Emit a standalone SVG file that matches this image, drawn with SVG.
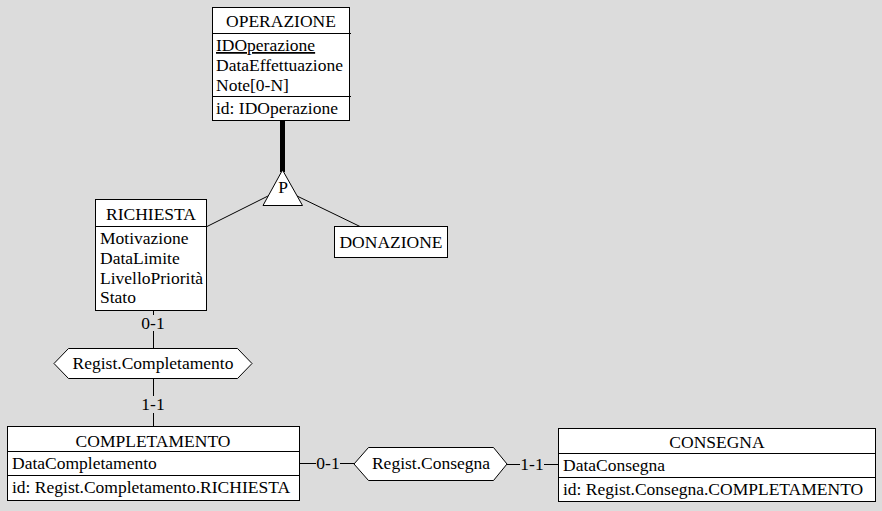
<svg xmlns="http://www.w3.org/2000/svg" width="882" height="511" viewBox="0 0 882 511">
<style>
.box{fill:#ffffff;stroke:#000000;stroke-width:1}
.sep{stroke:#000000;stroke-width:1}
.t{font-family:"Liberation Serif","Times New Roman",serif;font-size:17.5px;fill:#000000}
.c{text-anchor:middle}
.ln{stroke:#000000;stroke-width:1;fill:none}
.bg{fill:#dcdcdc}
</style>
<rect width="882" height="511" fill="#dcdcdc"/>
<g id="connectors">
<line class="ln" x1="282.5" y1="121" x2="282.5" y2="172" style="stroke-width:5"/>
<line class="ln" x1="207" y1="226.5" x2="268" y2="196"/>
<line class="ln" x1="297" y1="196" x2="360" y2="226.5"/>
<line class="ln" x1="153.5" y1="310" x2="153.5" y2="348"/>
<rect class="bg" x="140" y="315" width="27" height="16"/>
<text class="t c" x="153" y="329">0-1</text>
<line class="ln" x1="153.5" y1="378" x2="153.5" y2="426"/>
<rect class="bg" x="140" y="396" width="27" height="17"/>
<text class="t c" x="153" y="410">1-1</text>
<line class="ln" x1="300" y1="463.5" x2="354" y2="463.5"/>
<rect class="bg" x="316" y="455" width="24" height="16"/>
<text class="t c" x="328" y="469">0-1</text>
<line class="ln" x1="507" y1="464.5" x2="558" y2="464.5"/>
<rect class="bg" x="520" y="456" width="24" height="16"/>
<text class="t c" x="532" y="470">1-1</text>
</g>
<g id="OPERAZIONE">
<rect class="box" x="212.5" y="7.5" width="137" height="113"/>
<line class="sep" x1="212.5" y1="33.5" x2="351" y2="33.5"/>
<line class="sep" x1="212.5" y1="96.5" x2="351" y2="96.5"/>
<text class="t c" x="281" y="27">OPERAZIONE</text>
<text class="t" x="216" y="51" text-decoration="underline">IDOperazione</text>
<text class="t" x="216" y="71">DataEffettuazione</text>
<text class="t" x="216" y="91">Note[0-N]</text>
<text class="t" x="216" y="114">id: IDOperazione</text>
</g>
<g id="P">
<polygon class="box" points="282.5,170 263,205.5 302.5,205.5"/>
<text class="t c" x="283" y="193">P</text>
</g>
<g id="RICHIESTA">
<rect class="box" x="95.5" y="199.5" width="111" height="111"/>
<line class="sep" x1="95.5" y1="226.5" x2="207" y2="226.5"/>
<text class="t c" x="151" y="220">RICHIESTA</text>
<text class="t" x="100" y="244">Motivazione</text>
<text class="t" x="100" y="264">DataLimite</text>
<text class="t" x="100" y="284">LivelloPriorità</text>
<text class="t" x="100" y="303">Stato</text>
</g>
<g id="DONAZIONE">
<rect class="box" x="334.5" y="226.5" width="113" height="31"/>
<text class="t c" x="391" y="248">DONAZIONE</text>
</g>
<g id="RegistCompletamento">
<polygon class="box" points="54,363.5 68.5,348.5 237.5,348.5 252,363.5 237.5,378.5 68.5,378.5"/>
<text class="t c" x="153" y="369">Regist.Completamento</text>
</g>
<g id="COMPLETAMENTO">
<rect class="box" x="7.5" y="426.5" width="292" height="74"/>
<line class="sep" x1="7.5" y1="451.5" x2="300" y2="451.5"/>
<line class="sep" x1="7.5" y1="475.5" x2="300" y2="475.5"/>
<text class="t c" x="153" y="447">COMPLETAMENTO</text>
<text class="t" x="12" y="469">DataCompletamento</text>
<text class="t" x="12" y="493">id: Regist.Completamento.RICHIESTA</text>
</g>
<g id="RegistConsegna">
<polygon class="box" points="354,464 368.5,447.5 493.5,447.5 507,464 493.5,480.5 368.5,480.5"/>
<text class="t c" x="431" y="469">Regist.Consegna</text>
</g>
<g id="CONSEGNA">
<rect class="box" x="558.5" y="428.5" width="317" height="73"/>
<line class="sep" x1="558.5" y1="453.5" x2="876" y2="453.5"/>
<line class="sep" x1="558.5" y1="477.5" x2="876" y2="477.5"/>
<text class="t c" x="717" y="448">CONSEGNA</text>
<text class="t" x="563" y="471">DataConsegna</text>
<text class="t" x="563" y="495">id: Regist.Consegna.COMPLETAMENTO</text>
</g>
</svg>
